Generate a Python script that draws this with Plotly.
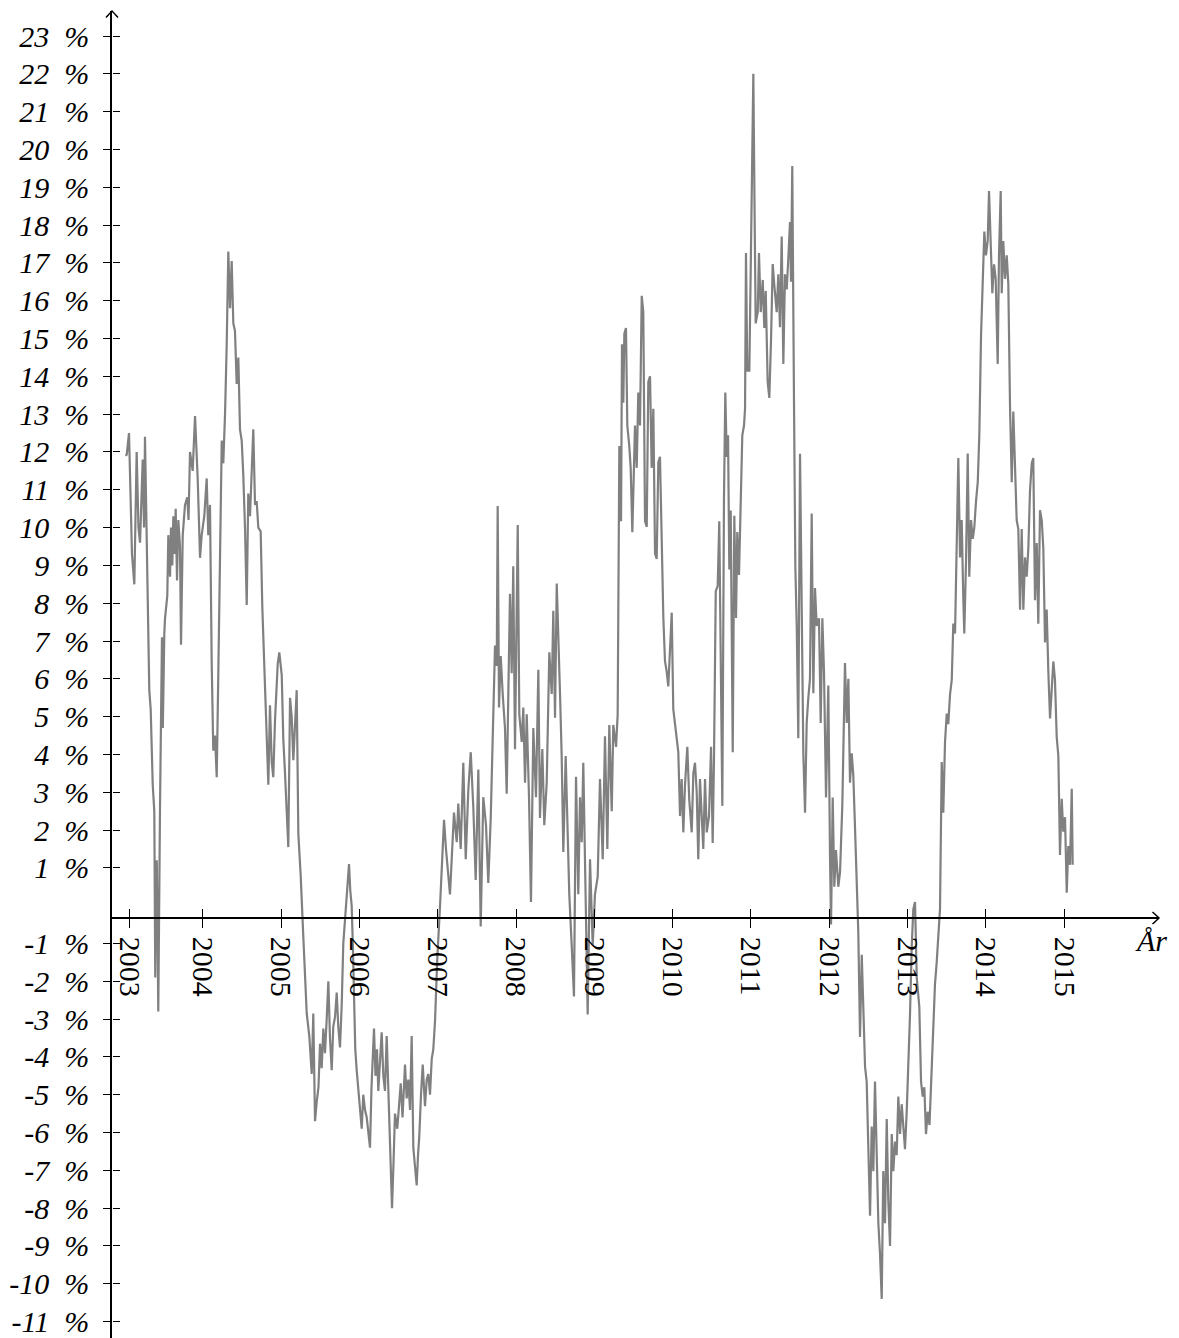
import plotly.graph_objects as go

# ---- data (decimal year, percent) ----
dates = [
    2003.014, 2003.030, 2003.059, 2003.097, 2003.127, 2003.157, 2003.180, 2003.200, 2003.234, 2003.251,
    2003.263, 2003.285, 2003.318, 2003.336, 2003.362, 2003.382, 2003.394, 2003.404, 2003.414, 2003.433,
    2003.446, 2003.455, 2003.480, 2003.491, 2003.510, 2003.519, 2003.548, 2003.561, 2003.583, 2003.595,
    2003.612, 2003.625, 2003.640, 2003.655, 2003.672, 2003.689, 2003.710, 2003.723, 2003.745, 2003.774,
    2003.803, 2003.819, 2003.838, 2003.872, 2003.902, 2003.936, 2003.966, 2003.987,
    2004.020, 2004.051, 2004.071, 2004.093, 2004.115, 2004.135, 2004.157, 2004.179, 2004.199, 2004.221,
    2004.243, 2004.263, 2004.285, 2004.306, 2004.327, 2004.349, 2004.370, 2004.391, 2004.412, 2004.434,
    2004.455, 2004.476, 2004.498, 2004.518, 2004.540, 2004.562, 2004.582, 2004.604, 2004.626, 2004.646,
    2004.668, 2004.689, 2004.710, 2004.740, 2004.761, 2004.783, 2004.808, 2004.838, 2004.859, 2004.881,
    2004.901, 2004.923, 2004.958, 2004.978,
    2005.009, 2005.029, 2005.051, 2005.072, 2005.093, 2005.115, 2005.136, 2005.157, 2005.178, 2005.200,
    2005.221, 2005.251, 2005.284, 2005.328, 2005.361, 2005.392, 2005.412, 2005.434, 2005.455, 2005.478,
    2005.498, 2005.519, 2005.540, 2005.561, 2005.583, 2005.604, 2005.625, 2005.647, 2005.667, 2005.689,
    2005.711, 2005.731, 2005.753, 2005.775, 2005.795, 2005.817, 2005.838, 2005.868, 2005.884, 2005.902,
    2005.919, 2005.932, 2005.948, 2005.966, 2005.987,
    2006.008, 2006.030, 2006.050, 2006.072, 2006.094, 2006.114, 2006.136, 2006.155, 2006.174, 2006.187,
    2006.206, 2006.225, 2006.242, 2006.264, 2006.285, 2006.306, 2006.327, 2006.349, 2006.366, 2006.382,
    2006.400, 2006.417, 2006.436, 2006.455, 2006.484, 2006.506, 2006.528, 2006.551, 2006.583, 2006.604,
    2006.625, 2006.647, 2006.668, 2006.689, 2006.710, 2006.732, 2006.749, 2006.765, 2006.787, 2006.809,
    2006.838, 2006.860, 2006.880, 2006.902, 2006.924, 2006.944, 2006.966, 2006.995,
    2007.030, 2007.055, 2007.081, 2007.106, 2007.136, 2007.157, 2007.179, 2007.208, 2007.243, 2007.263,
    2007.294, 2007.327, 2007.358, 2007.391, 2007.422, 2007.455, 2007.485, 2007.519, 2007.549, 2007.582,
    2007.617, 2007.646, 2007.677, 2007.702, 2007.732, 2007.754, 2007.766, 2007.783, 2007.805, 2007.830,
    2007.859, 2007.881, 2007.902, 2007.923, 2007.945, 2007.965, 2007.987,
    2008.009, 2008.022, 2008.042, 2008.073, 2008.093, 2008.115, 2008.137, 2008.166, 2008.191, 2008.221,
    2008.255, 2008.285, 2008.306, 2008.336, 2008.361, 2008.392, 2008.425, 2008.456, 2008.476, 2008.498,
    2008.520, 2008.540, 2008.562, 2008.583, 2008.604, 2008.634, 2008.655, 2008.680, 2008.711, 2008.740,
    2008.766, 2008.795, 2008.817, 2008.839, 2008.859, 2008.894, 2008.915, 2008.945, 2008.979,
    2009.008, 2009.043, 2009.072, 2009.107, 2009.136, 2009.166, 2009.191, 2009.222, 2009.242, 2009.277,
    2009.298, 2009.306, 2009.319, 2009.341, 2009.353, 2009.370, 2009.383, 2009.404, 2009.421, 2009.446,
    2009.464, 2009.485, 2009.498, 2009.519, 2009.541, 2009.561, 2009.583, 2009.605, 2009.625, 2009.647,
    2009.669, 2009.689, 2009.711, 2009.732, 2009.753, 2009.775, 2009.796, 2009.817, 2009.838, 2009.860,
    2009.881, 2009.902, 2009.924, 2009.944, 2009.966, 2009.988,
    2010.008, 2010.030, 2010.052, 2010.072, 2010.094, 2010.115, 2010.136, 2010.158, 2010.187, 2010.212,
    2010.243, 2010.264, 2010.285, 2010.307, 2010.327, 2010.349, 2010.371, 2010.391, 2010.413, 2010.435,
    2010.464, 2010.490, 2010.511, 2010.528, 2010.550, 2010.575, 2010.595, 2010.617, 2010.634, 2010.655,
    2010.672, 2010.690, 2010.707, 2010.723, 2010.741, 2010.767, 2010.787, 2010.809, 2010.825, 2010.847,
    2010.869, 2010.889, 2010.911, 2010.924, 2010.936, 2010.953, 2010.979,
    2011.000, 2011.030, 2011.047, 2011.060, 2011.086, 2011.102, 2011.124, 2011.150, 2011.170, 2011.188,
    2011.213, 2011.234, 2011.256, 2011.277, 2011.298, 2011.328, 2011.349, 2011.370, 2011.392, 2011.413,
    2011.434, 2011.456, 2011.476, 2011.498, 2011.511, 2011.527, 2011.549, 2011.566, 2011.584, 2011.604,
    2011.626, 2011.647, 2011.668, 2011.690, 2011.711, 2011.732, 2011.753, 2011.775, 2011.796, 2011.817,
    2011.839, 2011.868, 2011.890, 2011.911, 2011.932, 2011.958, 2011.987,
    2012.009, 2012.022, 2012.043, 2012.064, 2012.085, 2012.115, 2012.137, 2012.166, 2012.200, 2012.222,
    2012.243, 2012.264, 2012.286, 2012.306, 2012.328, 2012.350, 2012.370, 2012.392, 2012.414, 2012.434,
    2012.456, 2012.477, 2012.498, 2012.520, 2012.541, 2012.562, 2012.583, 2012.605, 2012.626, 2012.647,
    2012.669, 2012.689, 2012.711, 2012.733, 2012.753, 2012.775, 2012.797, 2012.817, 2012.839, 2012.860,
    2012.881, 2012.903, 2012.924, 2012.945, 2012.966, 2012.988,
    2013.009, 2013.030, 2013.052, 2013.072, 2013.094, 2013.116, 2013.149, 2013.171, 2013.192, 2013.213,
    2013.234, 2013.256, 2013.279, 2013.307, 2013.328, 2013.349, 2013.371, 2013.391, 2013.413, 2013.435,
    2013.455, 2013.477, 2013.499, 2013.519, 2013.541, 2013.563, 2013.583, 2013.605, 2013.626, 2013.647,
    2013.669, 2013.690, 2013.711, 2013.723, 2013.745, 2013.767, 2013.787, 2013.809, 2013.831, 2013.851,
    2013.873, 2013.895, 2013.915, 2013.937, 2013.958, 2013.979,
    2014.000, 2014.022, 2014.039, 2014.061, 2014.081, 2014.103, 2014.124, 2014.150, 2014.166, 2014.188,
    2014.201, 2014.221, 2014.243, 2014.265, 2014.285, 2014.307, 2014.329, 2014.349, 2014.371, 2014.392,
    2014.413, 2014.435, 2014.456, 2014.477, 2014.498, 2014.520, 2014.541, 2014.562, 2014.584, 2014.604,
    2014.626, 2014.648, 2014.668, 2014.690, 2014.712, 2014.732, 2014.754, 2014.775, 2014.796, 2014.818,
    2014.839, 2014.860, 2014.881, 2014.903, 2014.924, 2014.945, 2014.967, 2014.987,
    2015.009, 2015.031, 2015.051, 2015.073, 2015.095, 2015.107,
]

rates = [
    11.9, 11.93, 12.5, 9.3, 8.5, 12.0, 10.0, 9.6, 11.8, 10.0,
    12.4, 9.5, 5.7, 5.2, 3.2, 2.5, -1.9, 0.7, 1.2, -2.8,
    1.1, 2.6, 7.1, 4.7, 7.2, 7.6, 8.2, 9.8, 8.7, 10.0,
    9.0, 10.3, 9.3, 10.5, 8.6, 10.2, 9.5, 6.9, 9.8, 10.6,
    10.8, 10.2, 12.0, 11.5, 12.95, 11.3, 9.2, 9.8,
    10.3, 11.3, 9.8, 10.6, 6.4, 4.1, 4.5, 3.4, 6.1, 9.8,
    12.3, 11.7, 13.0, 14.8, 17.3, 15.8, 17.05, 15.4, 15.2, 13.8,
    14.5, 12.6, 12.3, 11.4, 10.0, 7.95, 10.9, 10.3, 11.3, 12.6,
    10.6, 10.7, 10.0, 9.9, 7.9, 6.4, 4.65, 3.2, 5.3, 3.8,
    3.4, 4.9, 6.4, 6.7,
    6.1, 4.4, 3.5, 2.5, 1.55, 5.5, 5.0, 3.85, 4.65, 5.7,
    1.9, 0.8, -0.8, -2.85, -3.45, -4.45, -2.85, -5.7, -5.2, -4.8,
    -3.65, -4.3, -3.25, -3.9, -3.0, -2.0, -3.5, -4.35, -3.2, -2.95,
    -2.3, -3.2, -3.75, -2.6, -1.0, -0.3, 0.2, 1.1, 0.4, 0.0,
    -1.2, -2.85, -3.8, -4.35, -4.9,
    -5.2, -5.9, -5.0, -5.4, -5.6, -6.0, -6.4, -4.8, -3.8, -3.25,
    -4.5, -3.8, -4.9, -4.0, -3.35, -4.5, -4.9, -3.45, -4.6, -5.1,
    -6.5, -8.0, -6.8, -5.5, -5.9, -5.2, -4.7, -5.6, -4.2, -5.1,
    -4.6, -5.4, -3.45, -6.4, -7.0, -7.4, -6.6, -6.1, -5.0, -4.2,
    -5.3, -4.6, -4.45, -5.0, -4.05, -3.8, -3.05, -1.4,
    0.0, 1.0, 2.27, 1.5, 0.77, 0.3, 1.23, 2.46, 1.68, 2.7,
    1.5, 3.78, 1.23, 3.06, 4.06, 2.6, 0.68, 3.6, -0.55, 2.87,
    2.13, 0.6, 2.3, 4.14, 6.88, 6.34, 10.57, 5.24, 6.6, 5.6,
    4.7, 2.96, 5.42, 8.25, 6.15, 8.98, 4.14,
    7.34, 10.07, 5.06, 4.33, 5.24, 3.25, 5.06, 2.87, 0.1, 4.7,
    2.87, 6.24, 2.32, 4.14, 2.13, 3.25, 6.7, 5.6, 7.8, 4.97,
    8.52, 7.34, 5.6, 3.96, 1.42, 3.96, 2.13, 0.3, -1.05, -2.4,
    3.41, 0.3, 2.87, 1.68, 3.78, -0.6, -2.88, 1.23, -1.05,
    0.3, 0.77, 3.35, 1.23, 4.48, 1.5, 4.78, 2.5, 4.78, 4.2,
    5.06, 8.18, 12.16, 10.17, 14.85, 13.3, 15.13, 15.28, 12.7, 12.16,
    11.58, 9.88, 11.3, 12.7, 11.58, 13.57, 12.7, 16.13, 15.7, 10.17,
    10.02, 13.85, 14.0, 11.58, 13.14, 9.31, 9.17, 11.73, 11.87, 9.6,
    7.61, 6.47, 6.19, 5.8, 6.9, 7.75,
    5.2, 4.78, 4.48, 4.06, 2.37, 3.35, 1.94, 3.21, 4.2, 2.8,
    1.94, 3.5, 3.78, 3.0, 1.23, 3.35, 2.37, 1.5, 3.35, 1.94,
    2.37, 4.2, 1.66, 3.93, 8.32, 8.46, 10.17, 4.63, 2.64, 10.73,
    13.57, 11.87, 12.44, 8.89, 10.45, 4.06, 10.31, 7.61, 9.88, 8.75,
    10.73, 12.44, 12.7, 13.14, 17.26, 14.15, 14.15,
    16.97, 22.0, 18.1, 15.4, 15.7, 17.26, 15.7, 16.55, 15.28, 16.26,
    13.85, 13.43, 14.99, 16.97, 16.41, 15.7, 16.7, 15.3, 17.7, 14.33,
    16.7, 16.3, 17.1, 18.08, 16.5, 19.56, 13.33, 8.98, 7.4, 4.43,
    11.95, 7.22, 4.03, 2.46, 4.83, 5.5, 6.0, 10.37, 5.62, 8.4,
    7.4, 7.6, 4.83, 7.6, 6.2, 2.86, 5.82,
    1.27, -0.5, 2.86, 0.5, 1.47, 0.5, 0.89, 2.66, 6.42, 4.83,
    6.0, 3.25, 4.03, 3.46, 2.07, 0.68, -0.7, -3.47, -1.3, -2.68,
    -4.26, -4.65, -6.24, -8.2, -5.84, -7.02, -4.65, -7.02, -8.4, -9.2,
    -10.4, -7.02, -8.4, -5.64, -7.8, -9.0, -6.04, -7.02, -6.24, -6.6,
    -5.05, -6.04, -5.25, -5.84, -6.44, -5.45,
    -4.26, -2.88, -1.09, -0.1, 0.1, -1.9, -2.68, -4.65, -5.05, -4.8,
    -6.04, -5.45, -5.8, -4.45, -3.27, -2.08, -1.49, -0.7, -0.1, 3.8,
    2.46, 4.33, 5.08, 4.8, 5.58, 5.97, 7.46, 7.2, 9.21, 11.84,
    9.21, 10.2, 8.08, 7.2, 9.08, 11.96, 8.7, 10.2, 9.7, 10.0,
    10.7, 11.2, 12.45, 15.09, 16.46, 17.83,
    17.2, 17.58, 18.9, 17.2, 16.2, 16.96, 16.58, 14.33, 17.2, 18.9,
    16.2, 17.58, 16.58, 17.2, 16.46, 13.2, 11.2, 13.07, 11.7, 10.2,
    9.96, 7.83, 9.96, 7.83, 9.21, 8.7, 9.46, 10.97, 11.7, 11.84,
    8.08, 9.59, 7.46, 10.46, 10.2, 9.46, 6.96, 7.83, 6.2, 4.95,
    5.7, 6.46, 5.97, 4.46, 3.96, 1.34, 2.83, 1.96,
    2.34, 0.34, 1.58, 1.08, 3.09, 1.08,
]

year_ticks = [2003.063, 2004, 2005, 2006, 2007, 2008, 2009, 2010, 2011, 2012, 2013, 2014, 2015]
year_labels = ["2003", "2004", "2005", "2006", "2007", "2008", "2009",
               "2010", "2011", "2012", "2013", "2014", "2015"]
pct_ticks = [-11, -10, -9, -8, -7, -6, -5, -4, -3, -2, -1,
             1, 2, 3, 4, 5, 6, 7, 8, 9, 10, 11, 12, 13, 14, 15, 16, 17, 18, 19, 20, 21, 22, 23]
pct_labels = [f"{v}\u2002%" for v in pct_ticks]
x_title = "År"

# ---- axis geometry ----
X_MIN, X_MAX = 2002.842, 2016.209
Y_MIN, Y_MAX = -11.434, 23.663
X_AXIS_AT = -0.325
pos = (X_AXIS_AT - Y_MIN) / (Y_MAX - Y_MIN)

SERIF = "Liberation Serif, Times New Roman, serif"
label_font = dict(family=SERIF, size=30, color="black")
italic_font = dict(family=SERIF, size=30, color="black", style="italic")

fig = go.Figure()
fig.add_trace(go.Scatter(x=dates, y=rates, mode="lines",
                         line=dict(color="#808080", width=2.2),
                         hoverinfo="skip", showlegend=False))
fig.add_trace(go.Scatter(x=[], y=[], xaxis="x2", yaxis="y2", showlegend=False))

# the html page body has an 8px margin, so the figure is offset by (8, 8)
fig.update_layout(
    width=1179, height=1338,
    margin=dict(l=104, r=28, t=3, b=8, pad=0),
    paper_bgcolor="white", plot_bgcolor="white",
    showlegend=False,
    xaxis=dict(range=[X_MIN, X_MAX], anchor="free", position=pos, automargin=False,
               showline=True, linecolor="black", linewidth=1.5,
               showgrid=False, zeroline=False,
               ticks="outside", ticklen=9, tickwidth=1, tickcolor="black",
               tickvals=year_ticks, ticktext=year_labels, tickangle=90,
               tickfont=label_font, ticklabelstandoff=3, ticklabeloverflow="allow"),
    xaxis2=dict(range=[X_MIN, X_MAX], overlaying="x", anchor="free", position=pos, automargin=False,
                showline=False, showgrid=False, zeroline=False,
                ticks="inside", ticklen=9, tickwidth=1, tickcolor="black",
                tickvals=year_ticks, showticklabels=False),
    yaxis=dict(range=[Y_MIN, Y_MAX], showline=True, linecolor="black", linewidth=1.5,
               showgrid=False, zeroline=False, automargin=False,
               ticks="outside", ticklen=7, tickwidth=1, tickcolor="black",
               tickvals=pct_ticks, ticktext=pct_labels,
               tickfont=italic_font, ticklabelstandoff=8, ticklabeloverflow="allow"),
    yaxis2=dict(range=[Y_MIN, Y_MAX], overlaying="y", anchor="free", position=0, side="left",
                showline=False, showgrid=False, zeroline=False, automargin=False,
                ticks="inside", ticklen=7, tickwidth=1, tickcolor="black",
                tickvals=pct_ticks, showticklabels=False),
    shapes=[
        dict(type="path", xref="paper", yref="paper", xsizemode="pixel", ysizemode="pixel",
             xanchor=0, yanchor=1,
             path="M-6,-6.5 Q-1.5,-1.5 0,0 Q1.5,-1.5 6,-6.5",
             line=dict(color="black", width=1.5)),
        dict(type="path", xref="paper", yref="paper", xsizemode="pixel", ysizemode="pixel",
             xanchor=1, yanchor=pos,
             path="M-6.5,6 Q-1.5,1.5 0,0 Q-1.5,-1.5 -6.5,-6",
             line=dict(color="black", width=1.5)),
    ],
    annotations=[
        dict(text=x_title, xref="paper", yref="paper", x=1, y=pos,
             xanchor="right", yanchor="top", xshift=10, yshift=-4, showarrow=False,
             font=italic_font),
    ],
)

fig.write_html("out.html")
